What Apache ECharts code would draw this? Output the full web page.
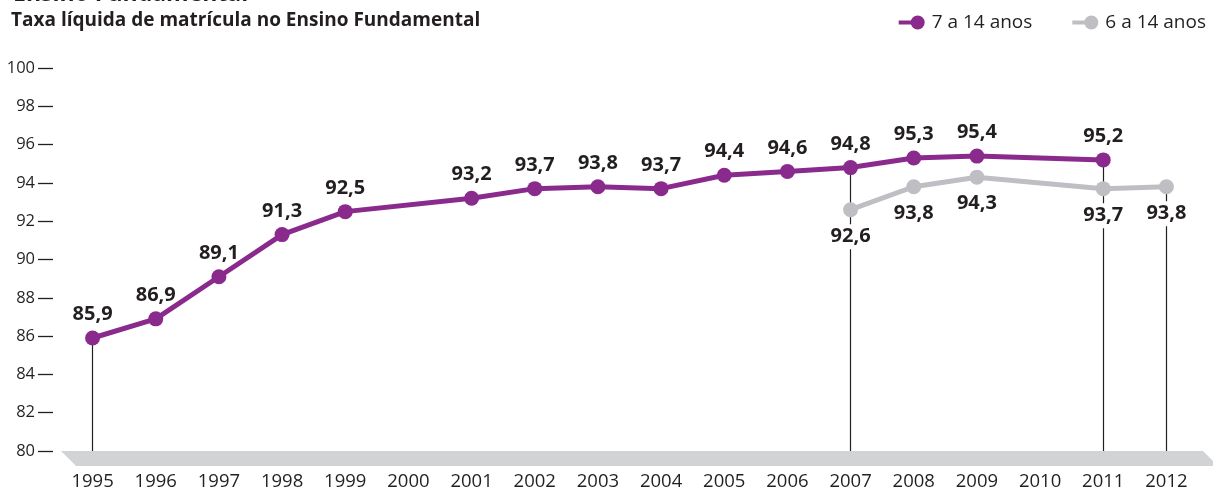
<!DOCTYPE html>
<html>
<head>
<meta charset="utf-8">
<script src="https://cdn.jsdelivr.net/npm/echarts@6/dist/echarts.min.js"></script>
<style>
  html, body { margin: 0; padding: 0; background: #fff; }
  #chart { width: 1213px; height: 491px; }
</style>
</head>
<body>
<div id="chart"></div>
<script>
// Anos da série
const years = ['1995','1996','1997','1998','1999','2000','2001','2002','2003','2004','2005','2006','2007','2008','2009','2010','2011','2012'];
// Taxa líquida de matrícula, 7 a 14 anos (%)
const rate7to14 = [85.9, 86.9, 89.1, 91.3, 92.5, null, 93.2, 93.7, 93.8, 93.7, 94.4, 94.6, 94.8, 95.3, 95.4, null, 95.2, null];
// Taxa líquida de matrícula, 6 a 14 anos (%)
const rate6to14 = [null, null, null, null, null, null, null, null, null, null, null, null, 92.6, 93.8, 94.3, null, 93.7, 93.8];
// Anos com linha vertical de referência até a base
const dropYears = ['1995', '2007', '2011', '2012'];
// Marcas do eixo vertical
const yMin = 80, yMax = 100, yStep = 2;

const PURPLE = '#8a2a8c';
const GRAY = '#bfbfc3';
const TEXT = '#231f20';
const FONT = '"Open Sans", "Noto Sans", sans-serif';

const fmt = v => String(v).replace('.', ',');

// topo de cada linha vertical: o maior valor do ano entre as duas séries
const dropLines = dropYears.map(y => {
  const i = years.indexOf(y);
  const vals = [rate7to14[i], rate6to14[i]].filter(v => v != null);
  return [{ coord: [y, Math.max(...vals)] }, { coord: [y, yMin] }];
});

const legendIcon = 'path://M0,5H16V9H0Z M19,0A7,7 0 1,1 19,14A7,7 0 1,1 19,0Z';

const chart = echarts.init(document.getElementById('chart'), null, { renderer: 'canvas' });

chart.setOption({
  animation: false,
  backgroundColor: '#fff',
  textStyle: { fontFamily: FONT },
  title: [
    {
      text: 'Ensino Fundamental',
      left: 8, top: -22,
      textStyle: { fontFamily: FONT, fontWeight: 'bold', fontSize: 23, color: TEXT }
    },
    {
      text: 'Taxa líquida de matrícula no Ensino Fundamental',
      left: 6, top: 6,
      textStyle: { fontFamily: FONT, fontWeight: 'bold', fontSize: 19, color: TEXT }
    }
  ],
  legend: {
    right: 2, top: 8,
    itemWidth: 26, itemHeight: 14,
    itemGap: 40,
    icon: legendIcon,
    textStyle: { fontFamily: FONT, fontSize: 19, color: TEXT, padding: [0, 0, 0, 2] },
    data: [
      { name: '7 a 14 anos', itemStyle: { color: PURPLE } },
      { name: '6 a 14 anos', itemStyle: { color: GRAY } }
    ]
  },
  grid: { left: 61, right: 15, top: 68, height: 383 },
  graphic: [
    {
      type: 'polygon',
      z: 0,
      shape: { points: [[61, 451], [1203, 451], [1213, 461], [1213, 466], [76, 466]] },
      style: { fill: '#d2d3d5' }
    }
  ],
  xAxis: {
    type: 'category',
    data: years,
    boundaryGap: true,
    axisLine: { show: false },
    axisTick: { show: false },
    axisLabel: { margin: 21, fontSize: 18.5, color: TEXT, fontFamily: FONT }
  },
  yAxis: {
    type: 'value',
    min: yMin, max: yMax, interval: yStep,
    offset: 8,
    splitLine: { show: false },
    axisLine: { show: false },
    axisTick: { show: true, length: 15, lineStyle: { color: TEXT, width: 1.3 } },
    axisLabel: { margin: 18, fontSize: 16.5, color: TEXT, fontFamily: FONT }
  },
  series: [
    {
      name: 'referência',
      type: 'line',
      data: [],
      z: 1,
      silent: true,
      markLine: {
        z: 1,
        symbol: 'none',
        silent: true,
        label: { show: false },
        lineStyle: { color: TEXT, width: 1.2, type: 'solid' },
        data: dropLines
      }
    },
    {
      name: '6 a 14 anos',
      type: 'line',
      data: rate6to14,
      connectNulls: true,
      z: 3,
      symbol: 'circle',
      symbolSize: 15,
      lineStyle: { color: GRAY, width: 5 },
      itemStyle: { color: GRAY },
      label: {
        show: true,
        position: 'bottom',
        distance: 7,
        formatter: p => fmt(p.value),
        fontSize: 20, fontWeight: 'bold', color: TEXT, fontFamily: FONT,
        backgroundColor: '#fff',
        padding: [2, 4, 3, 4]
      }
    },
    {
      name: '7 a 14 anos',
      type: 'line',
      data: rate7to14,
      connectNulls: true,
      z: 4,
      symbol: 'circle',
      symbolSize: 15,
      lineStyle: { color: PURPLE, width: 5 },
      itemStyle: { color: PURPLE },
      label: {
        show: true,
        position: 'top',
        distance: 6,
        formatter: p => fmt(p.value),
        fontSize: 20, fontWeight: 'bold', color: TEXT, fontFamily: FONT
      }
    }
  ]
});
</script>
</body>
</html>
